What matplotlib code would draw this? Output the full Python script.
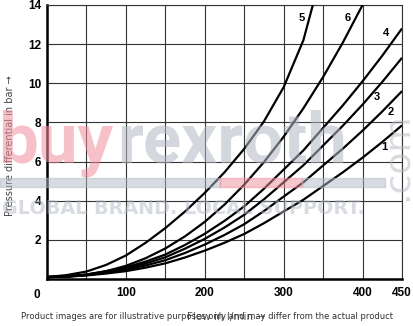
import numpy as np
import matplotlib.pyplot as plt

# flow in l/min, pressure differential in bar
q = [0, 25, 50, 75, 100, 125, 150, 175, 200, 225, 250, 275, 300, 325, 350, 375, 400, 425, 450]
p1 = [0.1, 0.12, 0.18, 0.28, 0.4, 0.58, 0.8, 1.1, 1.45, 1.85, 2.3, 2.85, 3.45, 4.05, 4.75, 5.45, 6.2, 7.0, 7.85]
p2 = [0.1, 0.12, 0.2, 0.32, 0.47, 0.69, 0.96, 1.33, 1.76, 2.25, 2.8, 3.47, 4.21, 4.94, 5.8, 6.66, 7.58, 8.56, 9.6]
p3 = [0.1, 0.13, 0.22, 0.36, 0.53, 0.79, 1.11, 1.55, 2.05, 2.63, 3.28, 4.07, 4.94, 5.81, 6.82, 7.83, 8.91, 10.07, 11.3]
p4 = [0.1, 0.13, 0.23, 0.4, 0.59, 0.89, 1.25, 1.74, 2.31, 2.97, 3.71, 4.61, 5.59, 6.57, 7.72, 8.87, 10.1, 11.41, 12.8]
q5 = [0, 25, 50, 75, 100, 125, 150, 175, 200, 225, 250, 275, 300, 325, 337]
p5 = [0.1, 0.2, 0.38, 0.72, 1.2, 1.85, 2.6, 3.45, 4.4, 5.45, 6.65, 8.05, 9.8, 12.2, 14.0]
q6 = [0, 25, 50, 75, 100, 125, 150, 175, 200, 225, 250, 275, 300, 325, 350, 375, 400]
p6 = [0.1, 0.12, 0.22, 0.4, 0.67, 1.06, 1.56, 2.18, 2.92, 3.8, 4.82, 5.97, 7.27, 8.72, 10.32, 12.08, 14.0]

curve_names = ["1", "2", "3", "4", "5", "6"]
label_q = [427, 436, 418, 430, 323, 381]
label_p = [6.75, 8.53, 9.3, 12.57, 13.34, 13.34]

xticks = [0, 100, 200, 300, 400, 450]
yticks = [2, 4, 6, 8, 10, 12, 14]

fig = plt.figure(figsize=(4.14, 3.26), dpi=100)
ax = fig.add_axes([0.1135, 0.1442, 0.8575, 0.8405])

for xs, ys in [(q, p1), (q, p2), (q, p3), (q, p4), (q5, p5), (q6, p6)]:
    ax.plot(xs, ys, color="black", lw=1.6, solid_capstyle="butt", zorder=3)

for name, lx, ly in zip(curve_names, label_q, label_p):
    ax.text(lx, ly, name, fontsize=8, fontweight="bold", family="Liberation Sans",
            ha="center", va="center", zorder=4)

ax.set_xlim(0, 450)
ax.set_ylim(0, 14)
ax.set_xticks(np.arange(0, 451, 50))
ax.set_xticklabels([str(v) if v in xticks and v != 0 else "" for v in range(0, 451, 50)])
ax.set_yticks(range(0, 15, 2))
ax.set_yticklabels([str(v) if v in yticks else "" for v in range(0, 15, 2)])
for lab in ax.get_xticklabels() + ax.get_yticklabels():
    lab.set_fontweight("bold")
    lab.set_fontsize(8.5)
    lab.set_family("Liberation Sans")
ax.tick_params(length=0)
ax.tick_params(axis="x", pad=6)
ax.tick_params(axis="y", pad=4)
ax.grid(True, color="#333333", lw=0.8)
ax.set_axisbelow(True)
for s in ["top", "right"]:
    ax.spines[s].set_linewidth(0.8)
    ax.spines[s].set_color("#333333")
for s in ["left", "bottom"]:
    ax.spines[s].set_linewidth(1.8)
ax.text(-0.02, -0.035, "0", transform=ax.transAxes, ha="right", va="top",
        fontsize=8.5, fontweight="bold", family="Liberation Sans")

fig.text(0.024, 0.552, "Pressure differential in bar \u2192", rotation=90, ha="center", va="center",
         fontsize=7, family=["Liberation Sans Narrow", "DejaVu Sans"], color="#444444")
fig.text(0.545, 0.027, "Flow in l/min \u2192", ha="center", va="center",
         fontsize=7.5, family=["Liberation Sans Narrow", "DejaVu Sans"], color="#555555")
fig.text(0.5, 0.028, "Product images are for illustrative purposes only and may differ from the actual product",
         ha="center", va="center", fontsize=6, color="#333333")

# watermark
pink = "#ef8e9c"
grey = "#b2b9c4"
fig.text(-0.005, 0.503, "buy", fontsize=51, fontweight="bold", family="Roboto",
         color=pink, alpha=0.55, ha="left", va="baseline", zorder=10)
fig.text(0.282, 0.503, "rexroth", fontsize=51, fontweight="bold", family="Roboto",
         color=grey, alpha=0.55, ha="left", va="baseline", zorder=10)
fig.text(0.005, 0.344, "GLOBAL BRAND. LOCAL SUPPORT.", fontsize=13.8, fontweight="bold", family="DejaVu Sans",
         color=grey, alpha=0.5, ha="left", va="baseline", zorder=10)
fig.text(0.958, 0.52, ".com", rotation=90, fontsize=26, family="DejaVu Sans",
         color=grey, alpha=0.5, ha="center", va="center", zorder=10)
fig.patches.append(plt.Rectangle((0.0, 0.427), 0.531, 0.027, transform=fig.transFigure,
                                 color=grey, alpha=0.5, zorder=10))
fig.patches.append(plt.Rectangle((0.531, 0.427), 0.198, 0.027, transform=fig.transFigure,
                                 color=pink, alpha=0.5, zorder=10))
fig.patches.append(plt.Rectangle((0.729, 0.427), 0.2, 0.027, transform=fig.transFigure,
                                 color=grey, alpha=0.5, zorder=10))

fig.savefig("out.png", dpi=100)
